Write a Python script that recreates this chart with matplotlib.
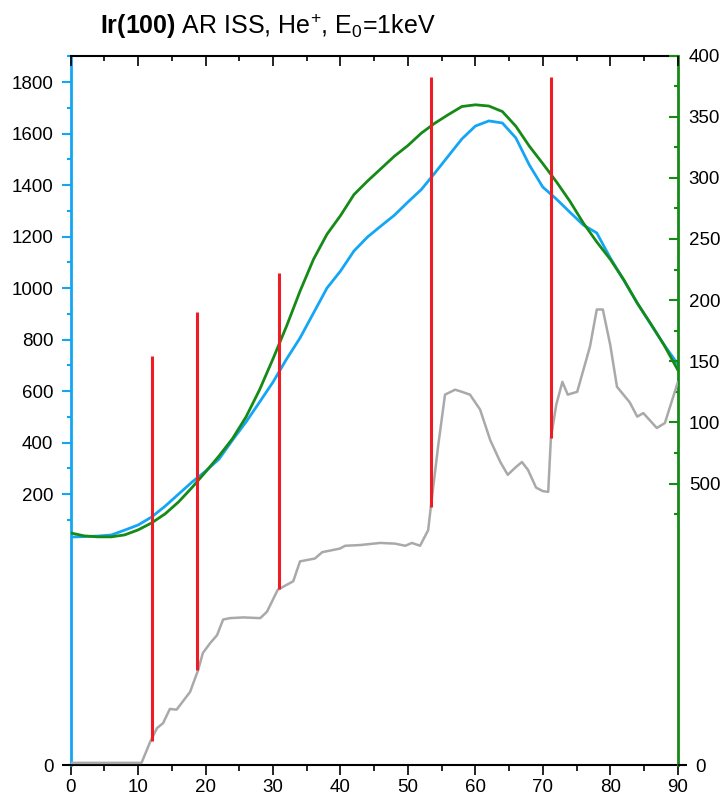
import matplotlib
matplotlib.use("Agg")
import matplotlib.pyplot as plt
from matplotlib.ticker import MultipleLocator, FixedLocator, FixedFormatter

plt.rcParams["font.family"] = ["Liberation Sans", "DejaVu Sans"]
plt.rcParams["mathtext.fontset"] = "custom"
plt.rcParams["mathtext.rm"] = "Liberation Sans"
plt.rcParams["mathtext.bf"] = "Liberation Sans:bold"
plt.rcParams["mathtext.it"] = "Liberation Sans:italic"

# azimuthal angle (deg) for the two intensity curves
angle = list(range(0, 91, 2))
# blue curve, left axis
blue = [33, 35, 37, 41, 60, 80, 111, 153, 200, 247, 289, 336, 410, 480, 557, 635,
        724, 806, 903, 1000, 1066, 1144, 1198, 1241, 1283, 1334, 1383, 1447, 1513,
        1579, 1629, 1649, 1641, 1583, 1478, 1392, 1346, 1295, 1245, 1214, 1117,
        1031, 942, 860, 779, 705]
# green curve, right axis
green = [9.7, 7.3, 6.5, 6.5, 8.1, 12.2, 17.9, 25.3, 35.1, 46.9, 59.6, 72.7, 86.9,
         104.6, 126.7, 152.1, 178.7, 207.3, 233.4, 253.9, 269.1, 286.3, 297.3,
         307.5, 317.7, 326.4, 336.6, 344.7, 351.7, 358.3, 359.7, 358.7, 354.2,
         342.2, 325.9, 311.6, 296.9, 281.0, 263.1, 247.6, 233.4, 216.7, 197.6,
         180.7, 163.1, 143.1]

# gray curve (own scale)
gray_angle = [0, 10.5, 11.8, 12.8, 13.7, 14.7, 15.7, 17.7, 18.9, 19.6, 20.7, 21.7,
              22.6, 23.6, 25.6, 28.1, 29.1, 30.7, 33.0, 34.0, 36.2, 37.3, 39.9, 40.7,
              42.9, 45.9, 48.1, 49.6, 50.6, 51.8, 53.0, 53.4, 54.5, 55.5, 57.0, 58.0,
              59.2, 60.7, 62.2, 63.7, 64.8, 65.9, 66.9, 67.8, 69.0, 70.0, 70.8, 71.2,
              72.0, 72.9, 73.7, 75.1, 77.0, 78.0, 78.9, 80.0, 81.0, 82.9, 84.0, 84.9,
              86.9, 88.1, 90.0]
gray = [3, 3, 33, 52, 59, 79, 78, 103, 134, 158, 172, 183, 205, 207, 208, 207, 216,
        247, 259, 287, 291, 300, 305, 309, 310, 313, 312, 309, 313, 309, 331, 364,
        451, 522, 529, 526, 522, 501, 458, 427, 409, 419, 427, 416, 391, 386, 385,
        461, 508, 540, 522, 526, 590, 642, 642, 592, 533, 511, 491, 496, 475, 482, 539]

# red marker lines (gray scale)
red_angle = [12.1, 18.8, 30.9, 53.4, 71.2]
red_top = [577, 639, 694, 970, 970]
red_bottom = [34, 134, 248, 364, 461]

blue_ticks = [200, 400, 600, 800, 1000, 1200, 1400, 1600, 1800]
green_ticks = [50, 100, 150, 200, 250, 300, 350, 400]
green_labels = ["500", "100", "150", "200", "250", "300", "350", "400"]

BLUE = "#14a6f5"
GREEN = "#168a16"
RED = "#ee1c25"
GRAY = "#a9a9a9"

fig = plt.figure(figsize=(7.24, 7.98), dpi=100)
ax = fig.add_axes([70.7 / 724, 1 - 765 / 798, 607 / 724, (765 - 55.5) / 798])
axg = ax.twinx()
axk = ax.twinx()

ax.plot(angle, blue, color=BLUE, lw=2.0)
axg.plot(angle, green, color=GREEN, lw=2.0)
axk.plot(gray_angle, gray, color=GRAY, lw=1.8)
axk.vlines(red_angle, red_bottom, red_top, color=RED, lw=2.2)

ax.set_xlim(0, 90)
ax.set_ylim(-852, 1903)
axg.set_ylim(-180, 400)
axk.set_ylim(0, 1000)

# spines
ax.spines["right"].set_visible(False)
ax.spines["left"].set_color(BLUE)
ax.spines["left"].set_linewidth(2)
ax.spines["bottom"].set_linewidth(1.5)
ax.spines["top"].set_linewidth(1.5)
for s in ["left", "top", "bottom"]:
    axg.spines[s].set_visible(False)
axg.spines["right"].set_color(GREEN)
axg.spines["right"].set_linewidth(2)
for s in axk.spines.values():
    s.set_visible(False)

# x axis: outward ticks at bottom, inward ticks at top
ax.xaxis.set_major_locator(MultipleLocator(10))
ax.xaxis.set_minor_locator(MultipleLocator(5))
ax.tick_params(axis="x", which="major", direction="out", length=7, width=1.2,
               labelsize=13.5, pad=3)
ax.tick_params(axis="x", which="minor", direction="out", length=4, width=1.2)
axk.xaxis.set_visible(True)
axk.tick_params(axis="x", which="both", bottom=False, top=True,
                labelbottom=False, labeltop=False, direction="in", width=1.2)
axk.tick_params(axis="x", which="major", length=7)
axk.tick_params(axis="x", which="minor", length=3.5)

# blue axis
ax.yaxis.set_major_locator(FixedLocator(blue_ticks))
ax.yaxis.set_minor_locator(FixedLocator([t - 100 for t in blue_ticks] + [1900]))
ax.tick_params(axis="y", which="major", direction="out", length=6.5, width=1.5,
               color=BLUE, labelsize=13.5, pad=6)
ax.tick_params(axis="y", which="minor", direction="out", length=3, width=1.5,
               color=BLUE)

# green axis
axg.yaxis.set_major_locator(FixedLocator(green_ticks))
axg.yaxis.set_major_formatter(FixedFormatter(green_labels))
axg.yaxis.set_minor_locator(FixedLocator([t - 25 for t in green_ticks]))
axg.tick_params(axis="y", which="major", direction="in", length=6.5, width=1.5,
                color=GREEN, labelsize=13.5, pad=8)
axg.tick_params(axis="y", which="minor", direction="in", length=3, width=1.5,
                color=GREEN)

# gray axis: only zero, on both sides
axk.yaxis.set_major_locator(FixedLocator([0]))
axk.yaxis.set_ticks_position("both")
axk.tick_params(axis="y", labelleft=True, labelright=True, labelsize=13.5,
                length=6.5, width=1.5, direction="out", pad=6)
for t in axk.yaxis.get_major_ticks():
    t.tick1line.set_color(BLUE)
    t.tick2line.set_color(GREEN)

fig.text(100 / 724, 1 - 34 / 798,
         r"$\mathbf{Ir(100)}$ AR ISS, $\mathrm{He}^{+}$, $\mathrm{E}_{0}$=1keV",
         fontsize=18, ha="left", va="baseline")

fig.savefig("out.png", dpi=100)
